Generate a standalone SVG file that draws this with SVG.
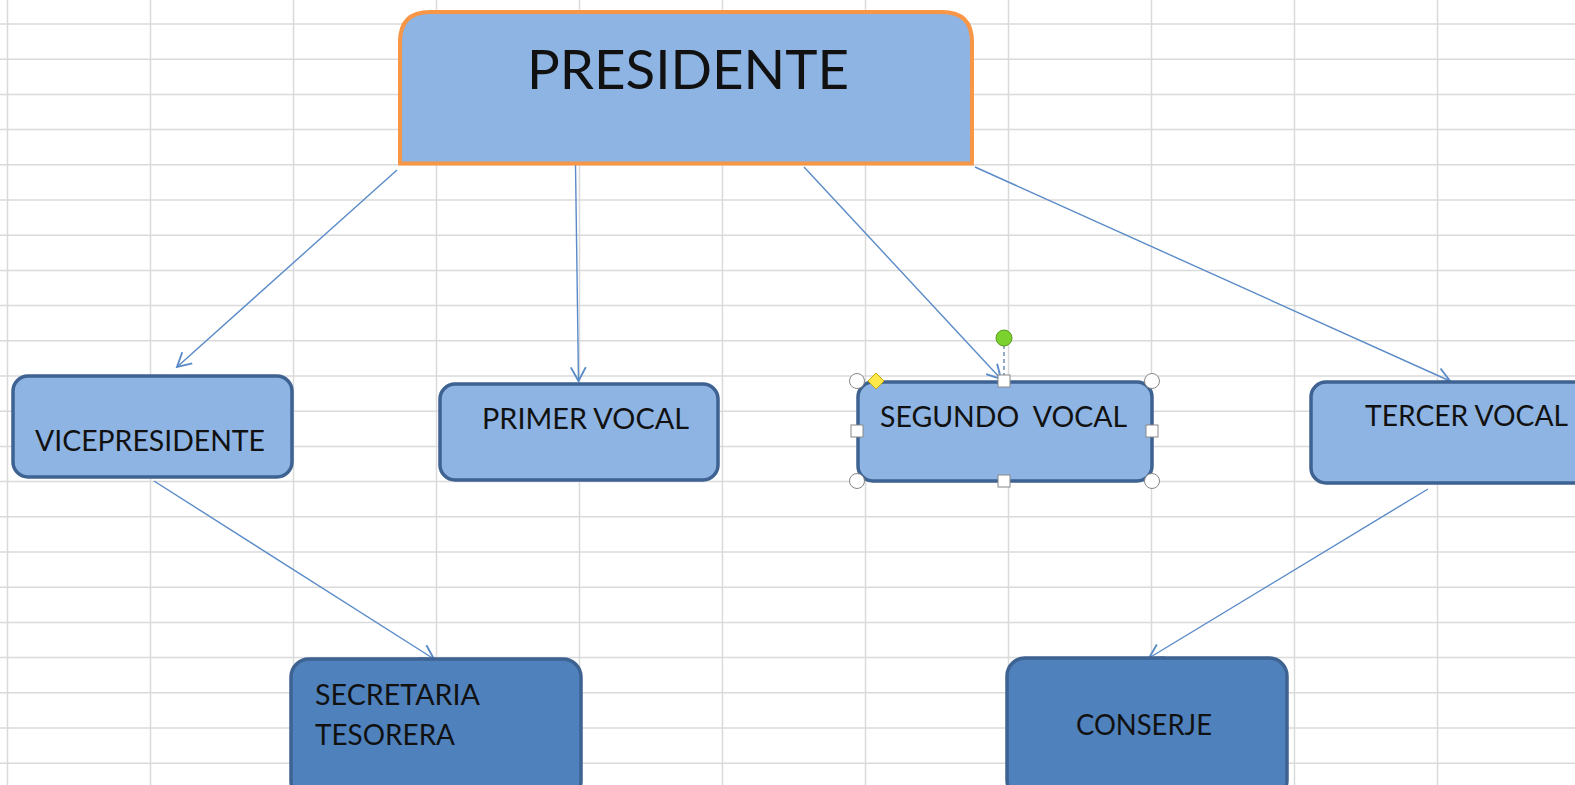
<svg xmlns="http://www.w3.org/2000/svg" width="1575" height="785" viewBox="0 0 1575 785">
<style>
.grid line{stroke:#dadada;stroke-width:1.5}
.light{fill:#8EB4E3;stroke:#3E6291;stroke-width:3.5}
.dark{fill:#4F81BD;stroke:#3E6291;stroke-width:3.5}
.lbl{font-family:Lato,"Open Sans",sans-serif;fill:#111;font-size:28px}
.big{font-size:54px}
.conn line{stroke:#5A8BC8;stroke-width:1.4;marker-end:url(#arr)}
.h{fill:#fff;stroke:#888;stroke-width:1}
</style>
<defs>
<marker id="arr" markerUnits="userSpaceOnUse" markerWidth="20" markerHeight="20" viewBox="-12 -8 14 16" refX="0" refY="0" orient="auto">
<path d="M-11,-6 L0,0 L-11,6" fill="none" stroke="#5A8BC8" stroke-width="1.5"/>
</marker>
</defs>
<rect width="1575" height="785" fill="#fff"/>
<g class="grid">
<line x1="7.5" y1="0" x2="7.5" y2="785"/><line x1="150.5" y1="0" x2="150.5" y2="785"/><line x1="293.5" y1="0" x2="293.5" y2="785"/><line x1="436.5" y1="0" x2="436.5" y2="785"/><line x1="579.5" y1="0" x2="579.5" y2="785"/><line x1="722.5" y1="0" x2="722.5" y2="785"/><line x1="865.5" y1="0" x2="865.5" y2="785"/><line x1="1008.5" y1="0" x2="1008.5" y2="785"/><line x1="1151.5" y1="0" x2="1151.5" y2="785"/><line x1="1294.5" y1="0" x2="1294.5" y2="785"/><line x1="1437.5" y1="0" x2="1437.5" y2="785"/>
<line x1="0" y1="24" x2="1575" y2="24"/><line x1="0" y1="59.2" x2="1575" y2="59.2"/><line x1="0" y1="94.4" x2="1575" y2="94.4"/><line x1="0" y1="129.6" x2="1575" y2="129.6"/><line x1="0" y1="164.8" x2="1575" y2="164.8"/><line x1="0" y1="200" x2="1575" y2="200"/><line x1="0" y1="235.2" x2="1575" y2="235.2"/><line x1="0" y1="270.4" x2="1575" y2="270.4"/><line x1="0" y1="305.6" x2="1575" y2="305.6"/><line x1="0" y1="340.8" x2="1575" y2="340.8"/><line x1="0" y1="376" x2="1575" y2="376"/><line x1="0" y1="411.2" x2="1575" y2="411.2"/><line x1="0" y1="446.4" x2="1575" y2="446.4"/><line x1="0" y1="481.6" x2="1575" y2="481.6"/><line x1="0" y1="516.8" x2="1575" y2="516.8"/><line x1="0" y1="552" x2="1575" y2="552"/><line x1="0" y1="587.2" x2="1575" y2="587.2"/><line x1="0" y1="622.4" x2="1575" y2="622.4"/><line x1="0" y1="657.6" x2="1575" y2="657.6"/><line x1="0" y1="692.8" x2="1575" y2="692.8"/><line x1="0" y1="728" x2="1575" y2="728"/><line x1="0" y1="763.2" x2="1575" y2="763.2"/>
</g>
<g class="conn">
<line x1="397" y1="170" x2="177" y2="367"/>
<line x1="575.5" y1="164" x2="578.5" y2="381"/>
<line x1="804" y1="167" x2="1001" y2="379"/>
<line x1="975" y1="167" x2="1450" y2="381"/>
<line x1="154" y1="481" x2="434" y2="659"/>
<line x1="1428" y1="489" x2="1149" y2="658"/>
</g>
<g id="presidente">
<path d="M400,163.5 L400,42 Q400,12 430,12 L942,12 Q972,12 972,42 L972,163.5 Z" fill="#8EB4E3" stroke="#F79646" stroke-width="4"/>
<text class="lbl big" x="688" y="89" text-anchor="middle" textLength="322" lengthAdjust="spacingAndGlyphs">PRESIDENTE</text>
</g>
<g id="vicepresidente">
<rect class="light" x="13" y="376" width="279" height="101" rx="15"/>
<text class="lbl" x="35" y="451" textLength="230" lengthAdjust="spacingAndGlyphs">VICEPRESIDENTE</text>
</g>
<g id="primer-vocal">
<rect class="light" x="440" y="384" width="278" height="96" rx="15"/>
<text class="lbl" x="482" y="429" textLength="207" lengthAdjust="spacingAndGlyphs">PRIMER VOCAL</text>
</g>
<g id="segundo-vocal">
<rect class="light" x="858" y="382" width="294" height="99" rx="15"/>
<text class="lbl" x="880" y="427" textLength="247" lengthAdjust="spacingAndGlyphs" xml:space="preserve">SEGUNDO  VOCAL</text>
<line x1="1004" y1="345" x2="1004" y2="377" stroke="#4A6FA0" stroke-width="1.2" stroke-dasharray="4,3"/>
<circle cx="1004" cy="338" r="8" fill="#7BD12E" stroke="#5a9a22" stroke-width="1"/>
<circle class="h" cx="857" cy="381" r="7.5"/>
<circle class="h" cx="1152" cy="381" r="7.5"/>
<circle class="h" cx="857" cy="481" r="7.5"/>
<circle class="h" cx="1152" cy="481" r="7.5"/>
<rect class="h" x="998" y="375" width="12" height="12"/>
<rect class="h" x="998" y="475" width="12" height="12"/>
<rect class="h" x="851" y="425" width="12" height="12"/>
<rect class="h" x="1146" y="425" width="12" height="12"/>
<path d="M876,373 L884,381 L876,389 L868,381 Z" fill="#FFE84A" stroke="#C9A800" stroke-width="1"/>
</g>
<g id="tercer-vocal">
<rect class="light" x="1311" y="382" width="290" height="101" rx="15"/>
<text class="lbl" x="1365" y="426" textLength="203" lengthAdjust="spacingAndGlyphs">TERCER VOCAL</text>
</g>
<g id="secretaria">
<rect class="dark" x="291" y="659" width="290" height="140" rx="18"/>
<text class="lbl" x="315" y="705" textLength="165" lengthAdjust="spacingAndGlyphs">SECRETARIA</text>
<text class="lbl" x="315" y="745" textLength="140" lengthAdjust="spacingAndGlyphs">TESORERA</text>
</g>
<g id="conserje">
<rect class="dark" x="1007" y="658" width="280" height="140" rx="18"/>
<text class="lbl" x="1076" y="735" textLength="136" lengthAdjust="spacingAndGlyphs">CONSERJE</text>
</g>
</svg>
